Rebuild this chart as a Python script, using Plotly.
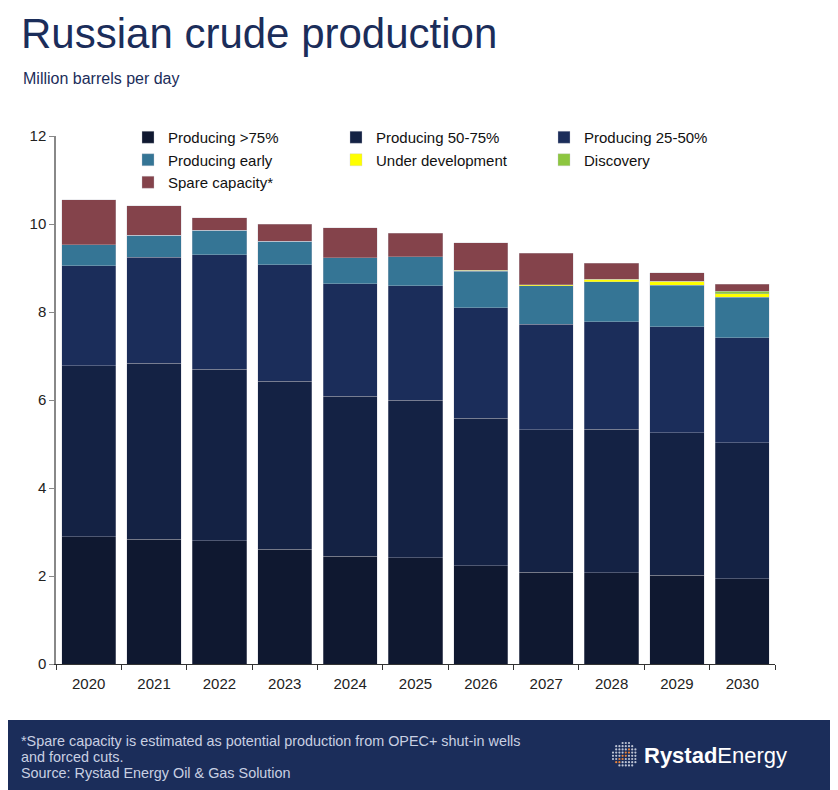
import numpy as np
import plotly.graph_objects as go

# --- Data (million barrels per day) ---
years = ["2020", "2021", "2022", "2023", "2024", "2025", "2026", "2027", "2028", "2029", "2030"]
producing_75 = [2.89, 2.84, 2.80, 2.61, 2.45, 2.42, 2.23, 2.09, 2.07, 2.02, 1.94]
producing_50_75 = [3.89, 4.00, 3.90, 3.82, 3.64, 3.58, 3.35, 3.23, 3.27, 3.24, 3.09]
producing_25_50 = [2.27, 2.40, 2.60, 2.64, 2.55, 2.60, 2.52, 2.40, 2.44, 2.41, 2.39]
producing_early = [0.48, 0.51, 0.56, 0.54, 0.59, 0.66, 0.83, 0.88, 0.91, 0.94, 0.91]
under_development = [0, 0, 0, 0, 0, 0, 0.02, 0.02, 0.05, 0.09, 0.09]
discovery = [0, 0, 0, 0, 0, 0, 0, 0, 0, 0, 0.05]
spare_capacity = [1.02, 0.66, 0.28, 0.38, 0.69, 0.53, 0.62, 0.71, 0.37, 0.19, 0.16]

footer_lines = [
    "*Spare capacity is estimated as potential production from OPEC+ shut-in wells",
    "and forced cuts.",
    "Source: Rystad Energy Oil & Gas Solution",
]

SERIES = [
    ("Producing >75%", producing_75, "#0f1830"),
    ("Producing 50-75%", producing_50_75, "#142244"),
    ("Producing 25-50%", producing_25_50, "#1b2d5a"),
    ("Producing early", producing_early, "#357595"),
    ("Under development", under_development, "#ffff00"),
    ("Discovery", discovery, "#8dc63f"),
    ("Spare capacity*", spare_capacity, "#84434b"),
]

NAVY = "#1b2d5a"
FONT = "Liberation Sans, Arial, sans-serif"

# page sits 8px inside the window, so the figure is a bit smaller
W, H = 830, 782
OFF = 8
L, T = 56 - OFF, 136 - OFF
R = W - (775 - OFF)
B = H - (664 - OFF)
PW, PH = W - L - R, H - T - B


# helpers take positions measured on the reference screenshot
def px(x):
    return (x - OFF - L) / PW


def py(y):
    return (H - B - (y - OFF)) / PH


fig = go.Figure()
for name, vals, color in SERIES:
    fig.add_trace(go.Bar(
        x=years, y=vals, name=name,
        marker=dict(color=color, line=dict(color="rgba(200,200,210,0.55)", width=0.6)),
    ))

# footer band
shapes = [dict(type="rect", xref="paper", yref="paper", x0=px(0), x1=px(W + 20), y0=py(720), y1=py(H + 20),
               fillcolor=NAVY, line=dict(width=0), layer="below")]

# logo globe: dot grid clipped to a circle
cx, cy, rad = 625, 755, 13
for gx in np.arange(-12, 13, 3.2):
    for gy in np.arange(-12, 13, 3.2):
        if gx * gx + gy * gy <= rad * rad:
            orange = abs(gx + gy * 0.9) < 2.5 and gx < 4
            c = "#e8833a" if orange else "rgba(220,225,235,0.85)"
            r = 1.1
            shapes.append(dict(type="circle", xref="paper", yref="paper",
                               x0=px(cx + gx - r), x1=px(cx + gx + r),
                               y0=py(cy + gy + r), y1=py(cy + gy - r),
                               fillcolor=c, line=dict(width=0)))

annotations = [
    dict(text="Russian crude production", x=px(19), y=py(59), xref="paper", yref="paper",
         xanchor="left", yanchor="bottom", showarrow=False,
         font=dict(family=FONT, size=42, color=NAVY)),
    dict(text="Million barrels per day", x=px(21), y=py(89), xref="paper", yref="paper",
         xanchor="left", yanchor="bottom", showarrow=False,
         font=dict(family=FONT, size=16, color=NAVY)),
    dict(text="<b>Rystad</b>Energy", x=px(642), y=py(755), xref="paper", yref="paper",
         xanchor="left", yanchor="middle", showarrow=False,
         font=dict(family=FONT, size=22, color="white")),
]
for i, line in enumerate(footer_lines):
    annotations.append(dict(text=line, x=px(19), y=py(741 + 16 * i), xref="paper", yref="paper",
                            xanchor="left", yanchor="middle", showarrow=False,
                            font=dict(family=FONT, size=14.4, color="#c9d0e2")))

fig.update_layout(
    width=W, height=H,
    margin=dict(l=L, r=R, t=T, b=B),
    barmode="stack", bargap=0.17,
    plot_bgcolor="white", paper_bgcolor="white",
    font=dict(family=FONT, size=15, color="#222222"),
    showlegend=True,
    legend=dict(
        orientation="h", traceorder="normal", x=px(128), y=py(121),
        xanchor="left", yanchor="top", entrywidth=163, entrywidthmode="pixels",
        font=dict(family=FONT, size=15, color="#111111"), bgcolor="rgba(0,0,0,0)",
        itemclick=False, tracegroupgap=0,
    ),
    xaxis=dict(
        showgrid=False, showline=True, linecolor="#333333", linewidth=1,
        ticks="outside", tickson="boundaries", ticklen=5, tickcolor="#333333",
        tickfont=dict(size=15, color="#222222"), range=[-0.5, 10.5],
        ticklabelstandoff=6,
    ),
    yaxis=dict(
        range=[0, 12], dtick=2, showgrid=False, zeroline=False,
        showline=True, linecolor="#888888", linewidth=1.5,
        ticks="outside", ticklen=5, tickcolor="#888888",
        tickfont=dict(size=15, color="#222222"),
    ),
    shapes=shapes,
    annotations=annotations,
)

fig.write_html("out.html")
